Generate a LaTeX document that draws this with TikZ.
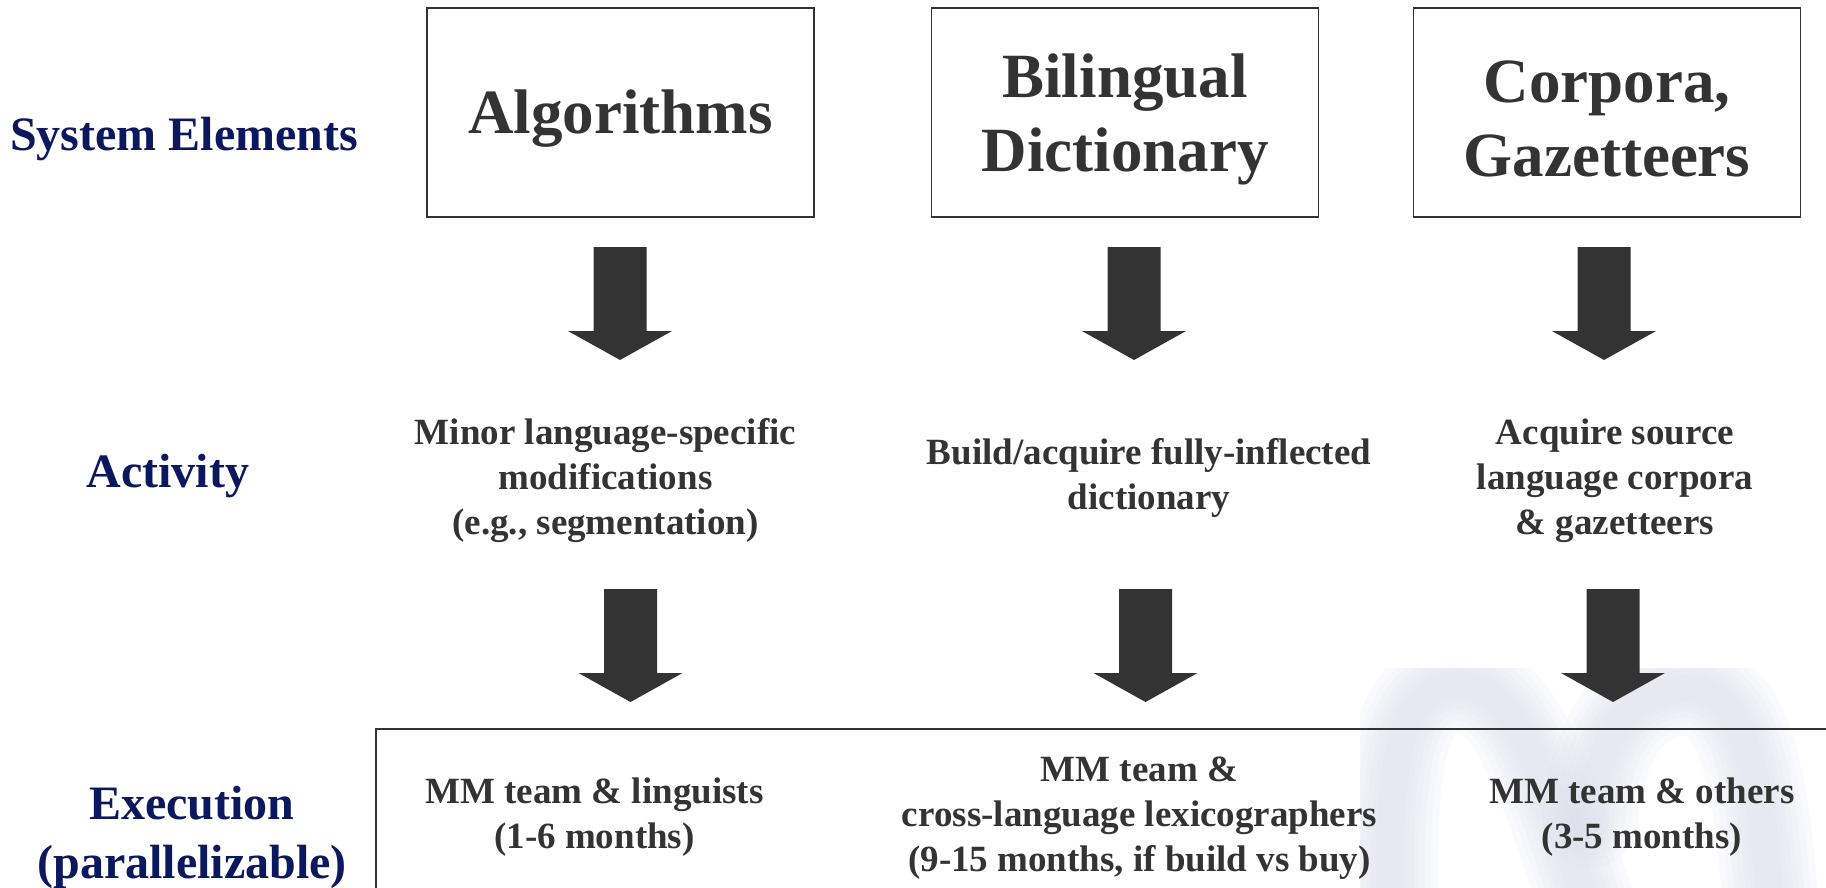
\documentclass[tikz,border=0pt]{standalone}
\usepackage{fontspec}
\setmainfont{Liberation Serif}
\definecolor{inkgray}{HTML}{333333}
\definecolor{navy}{RGB}{12,24,94}
\definecolor{haze}{RGB}{214,218,232}
\newcommand{\blockdown}[1]{%
  \fill[inkgray] (#1) ++(-26.5,0) -- ++(53,0) -- ++(0,84) -- ++(25.5,0)
    -- ++(-52,29) -- ++(-52,-29) -- ++(25.5,0) -- cycle;}
\begin{document}
\begin{tikzpicture}[x=1pt,y=-1pt,
  rowlabel/.style={text=navy,font=\bfseries\fontsize{48}{59}\selectfont,align=center,inner sep=0pt},
  element/.style={draw=inkgray,line width=1.5pt,
    minimum width=387pt,minimum height=209pt,inner sep=0pt},
  title/.style={text=inkgray,font=\bfseries\fontsize{63}{74}\selectfont,align=center,inner sep=0pt},
  body/.style={text=inkgray,font=\bfseries\fontsize{37}{45}\selectfont,align=center,inner sep=0pt},
  wm/.style={haze,line cap=round,line join=round,opacity=0.12}]
\useasboundingbox (0,0) rectangle (1826,887);

% faint logo mark behind the execution row
\begin{scope}
  \clip (1360,668) rectangle (1826,887);
  \foreach \w in {96,82,70,58,48,38,28}{
    \draw[wm,line width=\w pt]
      (1390,900) .. controls (1388,760) and (1400,690) .. (1455,685)
      .. controls (1510,682) and (1540,760) .. (1585,900);
    \draw[wm,line width=\w pt]
      (1590,820) .. controls (1600,720) and (1640,690) .. (1685,688)
      .. controls (1740,688) and (1760,760) .. (1770,900);
  }
\end{scope}

% row labels
\node[rowlabel] (lse) at (184,139) {System Elements};
\node[rowlabel] (lact) at (168,476) {Activity};
\node[rowlabel] (lexe) at (192,837) {Execution\\(parallelizable)};

% system elements: frames and their titles
\node[element] (algo) at (620.5,112.5) {};
\node[element] (dict) at (1125,112.5) {};
\node[element] (corp) at (1607,112.5) {};
\node[title] (algot) at (620.5,119) {Algorithms};
\node[title] (dictt) at (1125,119) {Bilingual\\Dictionary};
\node[title] (corpt) at (1607,119) {Corpora,\\Gazetteers};

% activities
\node[body] (act1) at (605.5,481) {Minor language-specific\\modifications\\(e.g., segmentation)};
\node[body] (act2) at (1149,478) {Build/acquire fully-inflected\\dictionary};
\node[body] (act3) at (1615,481) {Acquire source\\language corpora\\\& gazetteers};

% execution frame and entries
\draw[inkgray,line width=2pt] (1830,729) -- (376,729) -- (376,892);
\node[body] (exe1) at (594.5,817) {MM team \& linguists\\(1-6 months)};
\node[body] (exe2) at (1139.5,818) {MM team \&\\cross-language lexicographers\\(9-15 months, if build vs buy)};
\node[body] (exe3) at (1642,817) {MM team \& others\\(3-5 months)};

% block arrows between the rows
\coordinate (d1) at (620,247);
\coordinate (d2) at (1134,247);
\coordinate (d3) at (1604,247);
\coordinate (e1) at (630.5,589);
\coordinate (e2) at (1145.5,589);
\coordinate (e3) at (1613,589);
\blockdown{d1}\blockdown{d2}\blockdown{d3}
\blockdown{e1}\blockdown{e2}\blockdown{e3}
\end{tikzpicture}
\end{document}
